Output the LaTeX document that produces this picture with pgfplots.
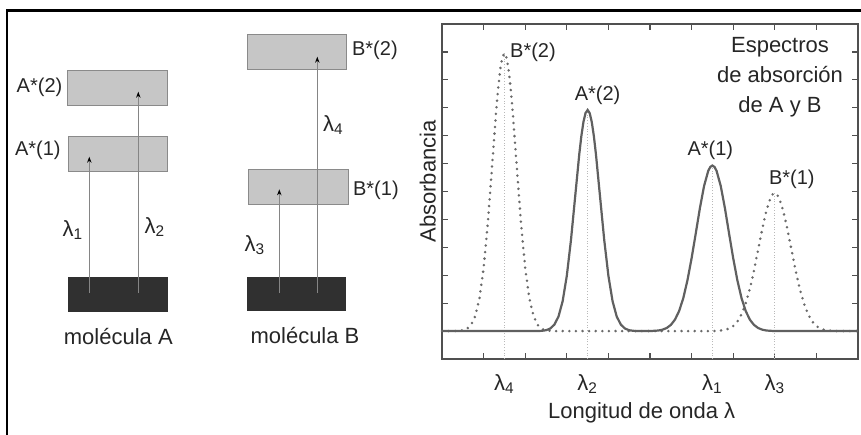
\documentclass[border=0pt]{standalone}
\usepackage{fontspec}
\setmainfont{Liberation Sans}
\usepackage{pgfplots}
\pgfplotsset{compat=1.18}
\usetikzlibrary{arrows.meta}
\definecolor{boxfill}{HTML}{C6C6C6}
\definecolor{boxedge}{HTML}{8A8A8A}
\definecolor{darkbox}{HTML}{303030}
\definecolor{arrowline}{HTML}{858585}
\definecolor{curveA}{HTML}{606060}
\definecolor{curveB}{HTML}{6A6A6A}
\definecolor{frame}{HTML}{505050}
\definecolor{txt}{HTML}{262626}
\begin{document}
\begin{tikzpicture}[font=\fontsize{11}{15}\selectfont, every node/.style={text=txt}]
\useasboundingbox (0,0) rectangle (430.5pt,217pt);
% ---------- left panel: energy level diagrams (pixel coordinates) ----------
\begin{axis}[at={(0pt,0pt)}, anchor=south west, scale only axis,
  width=430.5pt, height=217pt, xmin=0, xmax=861, ymin=0, ymax=434,
  hide axis, clip=false]
  % outer frame (left and top)
  \addplot[black, line width=1.1pt] coordinates {(7,-5) (7,423.5) (866,423.5)};
  % molecule A
  \addplot[draw=darkbox, fill=darkbox, line width=0.5pt] coordinates {(68,122.3) (167,122.3) (167,156.7) (68,156.7)} -- cycle;
  \addplot[draw=boxedge, fill=boxfill, line width=0.5pt] coordinates {(68,262.3) (167.5,262.3) (167.5,297.3) (68,297.3)} -- cycle;
  \addplot[draw=boxedge, fill=boxfill, line width=0.5pt] coordinates {(67.5,328) (167.5,328) (167.5,363.3) (67.5,363.3)} -- cycle;
  % molecule B
  \addplot[draw=darkbox, fill=darkbox, line width=0.5pt] coordinates {(247.5,124) (345,124) (345,156.7) (247.5,156.7)} -- cycle;
  \addplot[draw=boxedge, fill=boxfill, line width=0.5pt] coordinates {(248,229) (348,229) (348,264) (248,264)} -- cycle;
  \addplot[draw=boxedge, fill=boxfill, line width=0.5pt] coordinates {(247.5,364.7) (346.5,364.7) (346.5,399.7) (247.5,399.7)} -- cycle;
  % transitions
  \addplot[arrowline, line width=0.5pt, -{Stealth[length=3pt,width=2.2pt,black]}] coordinates {(89.3,141) (89.3,277.3)};
  \addplot[arrowline, line width=0.5pt, -{Stealth[length=3pt,width=2.2pt,black]}] coordinates {(138.3,141) (138.3,342.3)};
  \addplot[arrowline, line width=0.5pt, -{Stealth[length=3pt,width=2.2pt,black]}] coordinates {(279.3,141) (279.3,244.7)};
  \addplot[arrowline, line width=0.5pt, -{Stealth[length=3pt,width=2.2pt,black]}] coordinates {(317.3,141) (317.3,377.3)};
  % labels
  \node[anchor=east, inner sep=0pt, font=\fontsize{10}{12}\selectfont] at (axis cs:62.7,346.7) {A*(2)};
  \node[anchor=east, inner sep=0pt, font=\fontsize{10}{12}\selectfont] at (axis cs:61,284) {A*(1)};
  \node[anchor=west, inner sep=0pt, font=\fontsize{10}{12}\selectfont] at (axis cs:351.7,384) {B*(2)};
  \node[anchor=west, inner sep=0pt, font=\fontsize{10}{12}\selectfont] at (axis cs:352.7,244) {B*(1)};
  \node at (axis cs:73,204) {λ\textsubscript{1}};
  \node at (axis cs:155,207) {λ\textsubscript{2}};
  \node at (axis cs:255,189) {λ\textsubscript{3}};
  \node at (axis cs:333.3,309) {λ\textsubscript{4}};
  \node at (axis cs:118.3,97) {molécula A};
  \node at (axis cs:305,98) {molécula B};
\end{axis}
% ---------- right panel: absorption spectra ----------
\begin{axis}[at={(221pt,37.5pt)}, anchor=south west, scale only axis,
  width=208pt, height=167.5pt, xmin=0, xmax=10, ymin=0, ymax=12,
  axis line style={draw=frame, line width=0.6pt},
  tick style={draw=frame, line width=0.6pt},
  major tick length=3pt,
  xtick={1,...,9}, ytick={1,...,11},
  xticklabels={}, yticklabels={},
  extra x ticks={1.5,3.5,6.5,8},
  extra x tick labels={\mbox{λ\textsubscript{4}},\mbox{λ\textsubscript{2}},\mbox{λ\textsubscript{1}},\mbox{λ\textsubscript{3}}},
  extra x tick style={major tick length=0pt, grid=none,
     xticklabel style={yshift=-4pt}},
  xlabel={Longitud de onda λ},
  ylabel={Absorbancia},
  xlabel style={at={(axis description cs:0.48,-0.161)}, anchor=center},
  ylabel style={at={(axis description cs:-0.034,0.53)}, anchor=center},
  clip=false]
  % guide lines
  \addplot[gray!55, densely dotted, line width=0.4pt] coordinates {(1.5,0) (1.5,10.95)};
  \addplot[gray!55, densely dotted, line width=0.4pt] coordinates {(3.5,0) (3.5,8.92)};
  \addplot[gray!55, densely dotted, line width=0.4pt] coordinates {(6.5,0) (6.5,6.93)};
  \addplot[gray!55, densely dotted, line width=0.4pt] coordinates {(8,0) (8,5.94)};
  % molecule B spectrum (dotted)
  \addplot[curveB, line width=1.4pt, line cap=round, dash pattern=on 0pt off 3.3pt] coordinates {
    (0,1) (0.3,1) (0.4,1.01) (0.5,1.03) (0.6,1.08) (0.7,1.22) (0.8,1.54) (0.9,2.17)
    (1.0,3.25) (1.1,4.84) (1.2,6.83) (1.3,8.84) (1.35,9.70) (1.4,10.38) (1.45,10.80)
    (1.5,10.95) (1.55,10.80) (1.6,10.38) (1.65,9.70) (1.7,8.84) (1.8,6.83) (1.9,4.84)
    (2.0,3.25) (2.1,2.17) (2.2,1.54) (2.3,1.22) (2.4,1.08) (2.5,1.03) (2.6,1.01) (2.7,1)
    (6.5,1) (6.6,1.01) (6.7,1.02) (6.8,1.04) (6.9,1.09) (7.0,1.18) (7.1,1.34) (7.2,1.60)
    (7.3,1.99) (7.4,2.51) (7.5,3.17) (7.6,3.92) (7.7,4.67) (7.8,5.33) (7.9,5.78) (7.95,5.90)
    (8.0,5.94) (8.05,5.90) (8.1,5.78) (8.2,5.33) (8.3,4.67) (8.4,3.92) (8.5,3.17) (8.6,2.51)
    (8.7,1.99) (8.8,1.60) (8.9,1.34) (9.0,1.18) (9.1,1.09) (9.2,1.04) (9.3,1.02) (9.4,1.01)
    (9.5,1) (10,1)};
  % molecule A spectrum (solid)
  \addplot[curveA, line width=1.1pt] coordinates {
    (0,1) (2.3,1) (2.4,1.01) (2.5,1.03) (2.6,1.09) (2.7,1.23) (2.8,1.52) (2.9,2.07)
    (3.0,2.98) (3.1,4.26) (3.2,5.80) (3.3,7.34) (3.35,7.99) (3.4,8.49) (3.45,8.81)
    (3.5,8.92) (3.55,8.81) (3.6,8.49) (3.65,7.99) (3.7,7.34) (3.8,5.80) (3.9,4.26)
    (4.0,2.98) (4.1,2.07) (4.2,1.52) (4.3,1.23) (4.4,1.09) (4.5,1.03) (4.6,1.01) (4.7,1)
    (5.0,1) (5.1,1.01) (5.2,1.02) (5.3,1.05) (5.4,1.11) (5.5,1.22) (5.6,1.41) (5.7,1.72)
    (5.8,2.18) (5.9,2.82) (6.0,3.61) (6.1,4.50) (6.2,5.41) (6.3,6.20) (6.4,6.74) (6.45,6.88)
    (6.5,6.93) (6.55,6.88) (6.6,6.74) (6.7,6.20) (6.8,5.41) (6.9,4.50) (7.0,3.61) (7.1,2.82)
    (7.2,2.18) (7.3,1.72) (7.4,1.41) (7.5,1.22) (7.6,1.11) (7.7,1.05) (7.8,1.02) (7.9,1.01)
    (8.0,1) (10,1)};
  % peak labels
  \node[anchor=west, inner sep=0pt, font=\fontsize{10}{12}\selectfont] at (axis cs:1.63,11.0) {B*(2)};
  \node[inner sep=0pt, font=\fontsize{10}{12}\selectfont] at (axis cs:3.74,9.46) {A*(2)};
  \node[inner sep=0pt, font=\fontsize{10}{12}\selectfont] at (axis cs:6.45,7.49) {A*(1)};
  \node[inner sep=0pt, font=\fontsize{10}{12}\selectfont] at (axis cs:8.41,6.42) {B*(1)};
  \node[align=center, inner sep=0pt, font=\fontsize{11}{15}\selectfont] at (axis cs:8.125,10.11) {Espectros\\de absorción\\de A y B};
\end{axis}
\end{tikzpicture}
\end{document}
